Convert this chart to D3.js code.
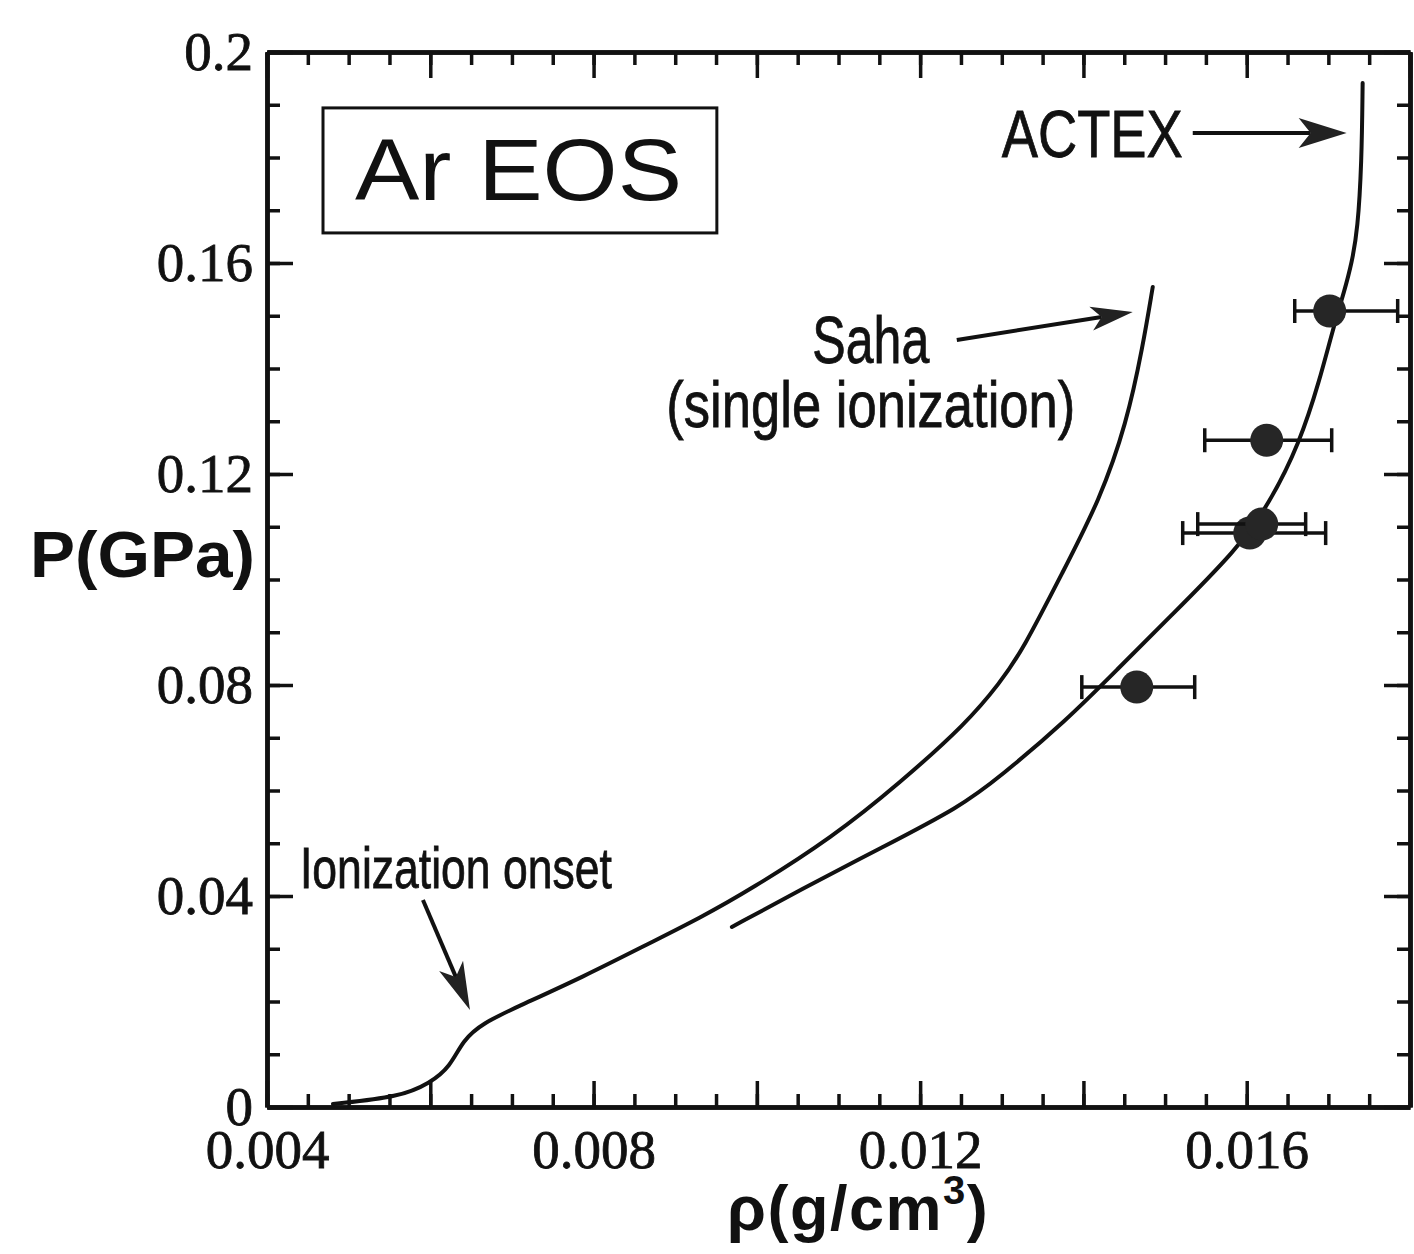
<!DOCTYPE html>
<html>
<head>
<meta charset="utf-8">
<title>Ar EOS</title>
<style>
  body { margin: 0; background: #fff; }
  .frame path, .frame line { stroke: #111; }
  .ticklabels text { font-family: 'Liberation Serif', 'Times New Roman', serif; font-size: 55px; fill: #111; stroke: #111; stroke-width: 0.8; }
  .ticklabels path, .ticklabels line { display: none; }
  .curve { fill: none; stroke: #111; stroke-width: 4; stroke-linejoin: round; stroke-linecap: round; }
  .errbar { stroke: #111; stroke-width: 3.5; }
  .dot { fill: #262626; }
  .note { font-family: 'Liberation Sans Narrow', 'Arial Narrow', 'Liberation Sans', sans-serif; fill: #111; stroke: #111; stroke-width: 0.8; }
  .title { font-family: 'Liberation Sans', Arial, sans-serif; font-weight: bold; fill: #111; }
</style>
</head>
<body>
<svg id="chart"></svg>
<script src="https://cdn.jsdelivr.net/npm/d3@7"></script>
<script>

// Saha (single ionization) curve, including the low-density ionization onset part
var sahaRho = [0.004808, 0.005629, 0.005996, 0.006241, 0.0064, 0.006645, 0.007061, 0.007869, 0.00869,
               0.009302, 0.009914, 0.010931, 0.011751, 0.012571, 0.012976, 0.013257, 0.013747, 0.0142,
               0.01453, 0.014726, 0.014849];
var sahaP   = [0.00057, 0.0019, 0.00455, 0.00758, 0.0127, 0.01592, 0.01896, 0.02464, 0.03109,
               0.03583, 0.04114, 0.05118, 0.06142, 0.0728, 0.08038, 0.08664, 0.10142, 0.11507,
               0.12967, 0.14408, 0.15545];

// ACTEX curve
var actexRho = [0.009694, 0.010527, 0.011543, 0.012486, 0.012976, 0.013796, 0.014408, 0.015057, 0.015878,
                0.016282, 0.016649, 0.016894, 0.017053, 0.0172, 0.017286, 0.017359, 0.017408, 0.01742];
var actexP   = [0.03412, 0.04114, 0.04929, 0.05687, 0.06256, 0.07336, 0.08284, 0.09289, 0.10559,
                0.1145, 0.12588, 0.13782, 0.1473, 0.15488, 0.16, 0.16626, 0.17896, 0.19412];

// measured points with horizontal error bars
var ptRho = [0.014653, 0.016037, 0.016184, 0.016245, 0.017016];
var ptP   = [0.0796, 0.1088, 0.1105, 0.1264, 0.1509];
var ptLo  = [0.01398, 0.015216, 0.0154, 0.015486, 0.016588];
var ptHi  = [0.015363, 0.016967, 0.016722, 0.017041, 0.017849];

var xLabels = [0.004, 0.008, 0.012, 0.016];
var yLabels = [0, 0.04, 0.08, 0.12, 0.16, 0.2];

var W = 1414, H = 1254;
var margin = {left: 267, top: 52, right: 4, bottom: 147};
var width = W - margin.left - margin.right,
    height = H - margin.top - margin.bottom;

var x = d3.scaleLinear().domain([0.004, 0.018]).range([0, width]);
var y = d3.scaleLinear().domain([0, 0.2]).range([height, 0]);

var svg = d3.select("#chart").attr("width", W).attr("height", H);
var g = svg.append("g").attr("transform", "translate(" + margin.left + "," + margin.top + ")");

var xMinor = d3.range(29).map(function(i) { return 0.004 + i * 0.0005; });
var xMajor = d3.range(8).map(function(i) { return 0.004 + i * 0.002; });
var yMinor = d3.range(21).map(function(i) { return i * 0.01; });
var yMajor = d3.range(6).map(function(i) { return i * 0.04; });

function frameAxis(axisFn, scale, vals, len, tr) {
    var a = g.append("g").attr("class", "frame").attr("transform", tr)
        .call(axisFn(scale).tickValues(vals).tickSize(-len).tickSizeOuter(0).tickFormat(""));
    a.select(".domain").attr("stroke-width", 4.5);
    a.selectAll(".tick line").attr("stroke-width", 3.5);
}

// inward ticks on all four sides
frameAxis(d3.axisBottom, x, xMinor, 13, "translate(0," + height + ")");
frameAxis(d3.axisBottom, x, xMajor, 26, "translate(0," + height + ")");
frameAxis(d3.axisTop, x, xMinor, 13, "translate(0,0)");
frameAxis(d3.axisTop, x, xMajor, 26, "translate(0,0)");
frameAxis(d3.axisLeft, y, yMinor, 13, "translate(0,0)");
frameAxis(d3.axisLeft, y, yMajor, 26, "translate(0,0)");
frameAxis(d3.axisRight, y, yMinor, 13, "translate(" + width + ",0)");
frameAxis(d3.axisRight, y, yMajor, 26, "translate(" + width + ",0)");

g.append("g").attr("class", "ticklabels")
    .attr("transform", "translate(0," + height + ")")
    .call(d3.axisBottom(x).tickValues(xLabels).tickSize(0).tickPadding(22).tickFormat(String));
g.append("g").attr("class", "ticklabels")
    .call(d3.axisLeft(y).tickValues(yLabels).tickSize(0).tickPadding(14).tickFormat(String));

// curves
var line = d3.line()
    .x(function(d) { return x(d[0]); })
    .y(function(d) { return y(d[1]); })
    .curve(d3.curveBasis);

g.append("path").attr("class", "curve").attr("d", line(d3.zip(sahaRho, sahaP)));
g.append("path").attr("class", "curve").attr("d", line(d3.zip(actexRho, actexP)));

// data points
var pts = d3.range(ptRho.length).map(function(i) {
    return {rho: ptRho[i], p: ptP[i], lo: ptLo[i], hi: ptHi[i]};
});
var pg = g.append("g").selectAll("g").data(pts).enter().append("g");
pg.append("line").attr("class", "errbar")
    .attr("x1", function(d) { return x(d.lo); }).attr("x2", function(d) { return x(d.hi); })
    .attr("y1", function(d) { return y(d.p); }).attr("y2", function(d) { return y(d.p); });
["lo", "hi"].forEach(function(k) {
    pg.append("line").attr("class", "errbar")
        .attr("x1", function(d) { return x(d[k]); }).attr("x2", function(d) { return x(d[k]); })
        .attr("y1", function(d) { return y(d.p) - 12; }).attr("y2", function(d) { return y(d.p) + 12; });
});
pg.append("circle").attr("class", "dot")
    .attr("cx", function(d) { return x(d.rho); }).attr("cy", function(d) { return y(d.p); })
    .attr("r", 16.5);

// annotations (positions in data units)
function arrow(x1, y1, x2, y2, len, half) {
    var X1 = x(x1), Y1 = y(y1), X2 = x(x2), Y2 = y(y2);
    var dx = X2 - X1, dy = Y2 - Y1, L = Math.sqrt(dx * dx + dy * dy);
    var ux = dx / L, uy = dy / L, nx = -uy, ny = ux;
    var bx = X2 - ux * len, by = Y2 - uy * len;
    var notchX = X2 - ux * len * 0.75, notchY = Y2 - uy * len * 0.75;
    g.append("line").attr("x1", X1).attr("y1", Y1).attr("x2", notchX).attr("y2", notchY)
        .attr("stroke", "#111").attr("stroke-width", 4);
    g.append("polygon")
        .attr("points", [[X2, Y2], [bx + nx * half, by + ny * half], [notchX, notchY], [bx - nx * half, by - ny * half]].join(" "))
        .attr("fill", "#222");
}

arrow(0.015339, 0.18464, 0.017224, 0.18464, 48, 15);
arrow(0.012449, 0.1454, 0.014604, 0.15071, 42, 12);
arrow(0.00591, 0.03924, 0.006486, 0.01839, 48, 13);

function note(txt, xv, yv, size, len, anchor) {
    g.append("text").attr("class", "note")
        .attr("x", x(xv)).attr("y", y(yv))
        .attr("font-size", size)
        .attr("text-anchor", anchor || "start")
        .attr("textLength", len).attr("lengthAdjust", "spacingAndGlyphs")
        .text(txt);
}
note("ACTEX", 0.013, 0.1801, 67, 181);
note("Saha", 0.011396, 0.14104, 66, 117, "middle");
note("(single ionization)", 0.011396, 0.12891, 64, 409, "middle");
note("Ionization onset", 0.004404, 0.04152, 58, 312);

// Ar EOS box
g.append("rect")
    .attr("x", x(0.004686)).attr("y", y(0.1894))
    .attr("width", x(0.00951) - x(0.004686)).attr("height", y(0.1657) - y(0.1894))
    .attr("fill", "none").attr("stroke", "#111").attr("stroke-width", 3);
g.append("text")
    .attr("x", x(0.005078)).attr("y", y(0.1719))
    .attr("font-family", "'Liberation Sans', Arial, sans-serif")
    .attr("font-size", 88).attr("fill", "#111")
    .attr("textLength", 327).attr("lengthAdjust", "spacingAndGlyphs")
    .text("Ar EOS");

// axis titles
svg.append("text").attr("class", "title")
    .attr("x", 30).attr("y", 577).attr("font-size", 64)
    .attr("textLength", 225).attr("lengthAdjust", "spacingAndGlyphs")
    .text("P(GPa)");

var xt = svg.append("text").attr("class", "title")
    .attr("x", 727).attr("y", 1230).attr("font-size", 63)
    .attr("letter-spacing", 1.5);
xt.append("tspan").text("\u03c1(g/cm");
xt.append("tspan").attr("font-size", 40).attr("dy", -26).text("3");
xt.append("tspan").attr("dy", 26).text(")");

</script>
</body>
</html>
